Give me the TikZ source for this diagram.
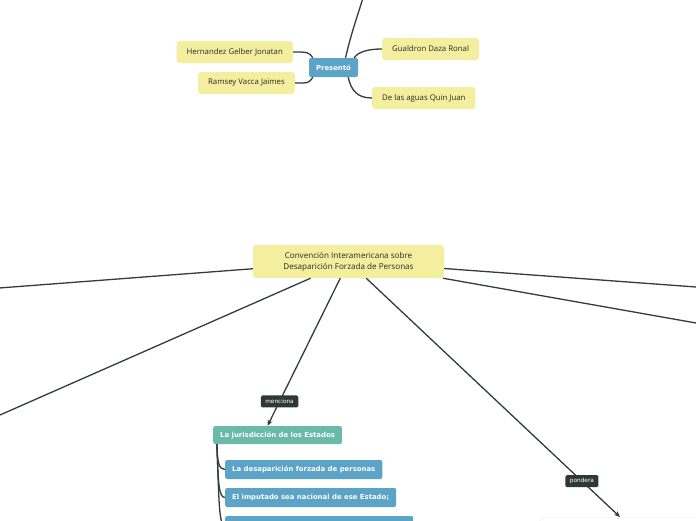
\documentclass[tikz,border=0pt]{standalone}
\usepackage{fontspec}
\setmainfont{Open Sans}
\newfontfamily\boxfont{DejaVu Sans}
\usetikzlibrary{arrows.meta}
\definecolor{cYel}{RGB}{243,239,158}
\definecolor{cBlue}{RGB}{91,163,199}
\definecolor{cTeal}{RGB}{107,186,167}
\definecolor{cLbl}{RGB}{47,56,52}
\definecolor{cLine}{RGB}{52,60,56}
\definecolor{cText}{RGB}{40,40,40}
\definecolor{cPale}{RGB}{222,232,232}
\begin{document}
\begin{tikzpicture}[x=1pt,y=-1pt,>={Stealth[length=6pt,width=5pt]},
  conn/.style={draw=cLine,line width=1.3pt},
  yel/.style={fill=cYel,rounded corners=3pt,minimum height=22pt,inner xsep=10pt,inner ysep=0pt,text=cText,font=\fontsize{7.8}{9}\selectfont},
  blu/.style={fill=cBlue,rounded corners=2pt,minimum height=19pt,inner xsep=7pt,inner ysep=0pt,text=white,font=\boxfont\bfseries\fontsize{6.9}{8}\selectfont},
  lbl/.style={fill=cLbl,rounded corners=1.5pt,minimum height=12pt,inner xsep=4.5pt,inner ysep=0pt,text=white,font=\boxfont\fontsize{5.8}{7}\selectfont}]
  \useasboundingbox (0,0) rectangle (696,520);
  \clip (0,0) rectangle (696,520);

  \node[blu,minimum width=49pt] (pre) at (333.5,67.5) {Presentó};
  \node[yel,anchor=east] (hg) at (293,52) {Hernandez Gelber Jonatan};
  \node[yel,anchor=east] (rv) at (295,83) {Ramsey Vacca Jaimes};
  \node[yel,anchor=west] (gd) at (382,49) {Gualdron Daza Ronal};
  \node[yel,anchor=west] (dq) at (372,98) {De las aguas Quin Juan};
  \coordinate (top) at (367,-15);

  \draw[conn] (hg.east) .. controls +(14,0) and +(-4,-6) .. ([xshift=4pt]pre.north west);
  \draw[conn] (rv.east) .. controls +(14,0) and +(-4,6) .. ([xshift=4pt]pre.south west);
  \draw[conn] ([xshift=-4pt]pre.north east) .. controls +(4,-6) and +(-14,0) .. (gd.west);
  \draw[conn] ([xshift=-10pt]pre.south east) .. controls +(3,14) and +(-14,0) .. (dq.west);
  \draw[conn] ([xshift=12pt]pre.north) .. controls (352,30) and (357,18) .. (top);

  \node[yel,minimum width=191pt,minimum height=33pt,align=center,font=\fontsize{8.1}{11}\selectfont] (cen) at (348.5,261.5) {Convención Interamericana sobre\\Desaparición Forzada de Personas};
  \coordinate (w1) at (-30,290.2);
  \coordinate (w2) at (-30,428.2);
  \coordinate (e1) at (726,289.2);
  \coordinate (e2) at (726,328.3);
  \draw[conn] (cen) -- (w1);
  \draw[conn] (cen) -- (w2);
  \draw[conn] (cen) -- (e1);
  \draw[conn] (cen) -- (e2);

  \node[blu,fill=cTeal,minimum height=18pt,anchor=west] (jur) at (213,435) {La jurisdicción de los Estados};
  \node[blu,anchor=west] (d1) at (225,469.5) {La desaparición forzada de personas};
  \node[blu,anchor=west] (d2) at (225,497.5) {El imputado sea nacional de ese Estado;};
  \node[blu,anchor=west,minimum width=188pt] (d3) at (225,525.5) {};
  \node[draw=cPale,fill=white,rounded corners=2pt,minimum width=200pt,minimum height=46pt,anchor=north west] (pon) at (540,517) {};

  \draw[conn,->] (cen) -- node[lbl,pos=0.835] (men) {menciona} ([xshift=-10pt]jur.north);
  \draw[conn,->] (cen) -- node[lbl,pos=0.85] (pnd) {pondera} ([xshift=80pt]pon.north west);

  \draw[conn] ([xshift=4pt]jur.south west) .. controls +(0,18) and +(-6,0) .. (d1.west);
  \draw[conn] ([xshift=4pt]jur.south west) .. controls +(1,40) and +(-6,0) .. (d2.west);
  \draw[conn] ([xshift=4pt]jur.south west) .. controls +(2,60) and +(-6,0) .. (d3.west);
\end{tikzpicture}
\end{document}
